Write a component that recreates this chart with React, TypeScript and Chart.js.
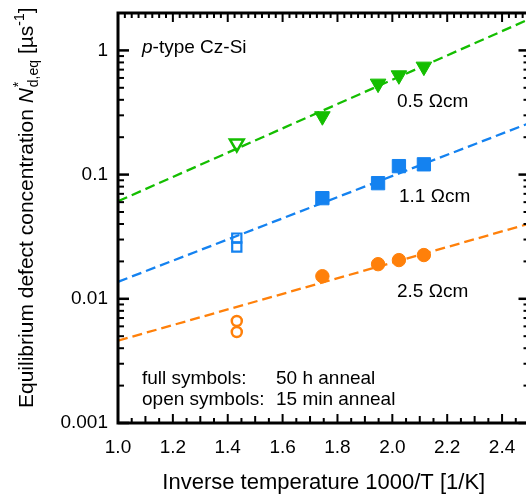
import React, { useEffect, useRef } from "react";
import { Chart, registerables } from "chart.js";

Chart.register(...registerables);

const FONT = '"Liberation Sans", Arial, Helvetica, sans-serif';

// ---- data ----
const xTicks = [1.0, 1.2, 1.4, 1.6, 1.8, 2.0, 2.2, 2.4];
const yTicks = [0.001, 0.01, 0.1, 1];
const yTickLabels = ["0.001", "0.01", "0.1", "1"];

const fullX = [1.745, 1.948, 2.024, 2.115];
const openX1 = [1.433];
const openX2 = [1.433, 1.433];

const green50h = [0.295, 0.54, 0.63, 0.74];
const green15min = [0.178];
const blue50h = [0.0646, 0.0853, 0.117, 0.121];
const blue15min = [0.0308, 0.0261];
const orange50h = [0.0152, 0.019, 0.0205, 0.0225];
const orange15min = [0.00663, 0.0054];

const fitX = [1.0, 2.5];
const greenFit = [0.061, 1.79];
const blueFit = [0.0137, 0.26];
const orangeFit = [0.0046, 0.0403];

const GREEN = "rgb(20,190,0)";
const BLUE = "rgb(20,130,240)";
const ORANGE = "rgb(255,128,10)";

const pts = (xs: number[], ys: number[]) => ys.map((y, i) => ({ x: xs[i], y }));

const framePlugin = {
  id: "frame",
  afterDraw(chart: any) {
    const { ctx, chartArea, scales } = chart;
    const { left, right, top, bottom } = chartArea;
    const x = scales.x;
    const y = scales.y;
    ctx.save();
    ctx.strokeStyle = "#000";
    ctx.lineCap = "butt";
    const seg = (x1: number, y1: number, x2: number, y2: number, w: number) => {
      ctx.lineWidth = w;
      ctx.beginPath();
      ctx.moveTo(x1, y1);
      ctx.lineTo(x2, y2);
      ctx.stroke();
    };
    // y ticks (log)
    for (let e = -3; e <= 0; e++) {
      for (let m = 1; m <= 9; m++) {
        const v = m * Math.pow(10, e);
        if (v < y.min - 1e-12 || v > y.max) continue;
        const py = y.getPixelForValue(v);
        const major = m === 1;
        const len = major ? 11 : 6;
        const w = major ? 2.5 : 2;
        seg(left, py, left + len, py, w);
        seg(right, py, right - len, py, w);
      }
    }
    // x ticks bottom: every 0.05, medium at 0.1, major at 0.2
    for (let i = 0; i <= 30; i++) {
      const v = 1.0 + i * 0.05;
      const px = x.getPixelForValue(v);
      const len = i % 4 === 0 ? 9 : i % 2 === 0 ? 7 : 5;
      seg(px, bottom, px, bottom - len, 2);
    }
    // x ticks top: every 0.025, major at 0.2
    for (let i = 0; i <= 60; i++) {
      const v = 1.0 + i * 0.025;
      const px = x.getPixelForValue(v);
      const len = i % 8 === 0 ? 9 : 5;
      seg(px, top, px, top + len, 2);
    }
    // frame
    ctx.lineWidth = 3;
    ctx.strokeRect(left, top, right - left, bottom - top);

    // annotations
    ctx.fillStyle = "#000";
    ctx.textBaseline = "alphabetic";
    ctx.textAlign = "left";
    const f19 = `19px ${FONT}`;
    ctx.font = `italic 19px ${FONT}`;
    ctx.fillText("p", left + 24, top + 40);
    const pw = ctx.measureText("p").width;
    ctx.font = f19;
    ctx.fillText("-type Cz-Si", left + 24 + pw, top + 40);
    ctx.fillText("0.5 \u03A9cm", left + 279, top + 94);
    ctx.fillText("1.1 \u03A9cm", left + 281, top + 189);
    ctx.fillText("2.5 \u03A9cm", left + 279, top + 284);
    ctx.fillText("full symbols:", left + 24, top + 371);
    ctx.fillText("50 h anneal", left + 158, top + 371);
    ctx.fillText("open symbols:", left + 24, top + 392);
    ctx.fillText("15 min anneal", left + 158, top + 392);

    // x title
    ctx.font = `22px ${FONT}`;
    ctx.textAlign = "center";
    ctx.fillText("Inverse temperature 1000/T [1/K]", (left + right) / 2, bottom + 66);

    // y title (rich text, rotated)
    ctx.save();
    ctx.translate(32.5, 408);
    ctx.rotate(-Math.PI / 2);
    ctx.textAlign = "left";
    let cx = 0;
    const big = `21px ${FONT}`;
    const small = `14px ${FONT}`;
    const put = (t: string, font: string, dy: number) => {
      ctx.font = font;
      ctx.fillText(t, cx, dy);
      return ctx.measureText(t).width;
    };
    cx += put("Equilibrium defect concentration ", big, 0);
    cx += put("N", `italic 21px ${FONT}`, 0);
    cx += 1;
    const wStar = put("*", small, -10);
    const wSub = put("d,eq", small, 5);
    cx += Math.max(wStar, wSub);
    cx += put(" [\u00B5s", big, 0);
    cx += put("-1", small, -9);
    cx += put("]", big, 0);
    ctx.restore();

    ctx.restore();
  },
};

export default function App() {
  const ref = useRef<HTMLCanvasElement | null>(null);
  useEffect(() => {
    if (!ref.current) return;
    const fitStyle = (color: string) => ({
      type: "line" as const,
      borderColor: color,
      borderWidth: 2.3,
      borderDash: [10, 5],
      pointRadius: 0,
      fill: false,
      showLine: true,
    });
    const chart = new Chart(ref.current, {
      type: "scatter",
      data: {
        datasets: [
          {
            label: "0.5 Ωcm 50 h",
            data: pts(fullX, green50h),
            pointStyle: "triangle",
            rotation: 180,
            radius: 9,
            backgroundColor: GREEN,
            borderColor: GREEN,
            borderWidth: 1,
          },
          {
            label: "0.5 Ωcm 15 min",
            data: pts(openX1, green15min),
            pointStyle: "triangle",
            rotation: 180,
            radius: 8,
            backgroundColor: "rgba(255,255,255,0)",
            borderColor: GREEN,
            borderWidth: 2.5,
          },
          {
            label: "1.1 Ωcm 50 h",
            data: pts(fullX, blue50h),
            pointStyle: "rect",
            radius: 9.4,
            backgroundColor: BLUE,
            borderColor: BLUE,
            borderWidth: 1,
          },
          {
            label: "1.1 Ωcm 15 min",
            data: pts(openX2, blue15min),
            pointStyle: "rect",
            radius: 6.5,
            backgroundColor: "rgba(255,255,255,0)",
            borderColor: BLUE,
            borderWidth: 2.2,
          },
          {
            label: "2.5 Ωcm 50 h",
            data: pts(fullX, orange50h),
            pointStyle: "circle",
            radius: 6.7,
            backgroundColor: ORANGE,
            borderColor: ORANGE,
            borderWidth: 1,
          },
          {
            label: "2.5 Ωcm 15 min",
            data: pts(openX2, orange15min),
            pointStyle: "circle",
            radius: 5,
            backgroundColor: "rgba(255,255,255,0)",
            borderColor: ORANGE,
            borderWidth: 2.5,
          },
          { ...fitStyle(GREEN), label: "fit 0.5", data: pts(fitX, greenFit) } as any,
          { ...fitStyle(BLUE), label: "fit 1.1", data: pts(fitX, blueFit) } as any,
          { ...fitStyle(ORANGE), label: "fit 2.5", data: pts(fitX, orangeFit) } as any,
        ],
      },
      options: {
        animation: false,
        responsive: false,
        devicePixelRatio: 1,
        layout: { padding: { top: 13, right: 9, left: 0, bottom: 0 } },
        plugins: { legend: { display: false }, tooltip: { enabled: false } },
        scales: {
          x: {
            type: "linear",
            min: 1.0,
            max: 2.5,
            grid: { display: false, drawTicks: false },
            border: { display: false },
            afterBuildTicks: (s: any) => {
              s.ticks = xTicks.map((v) => ({ value: v }));
            },
            afterFit: (s: any) => {
              s.height = 77;
              s.paddingLeft = 0;
              s.paddingRight = 0;
            },
            ticks: {
              color: "#000",
              padding: 13,
              font: { family: FONT, size: 19 },
              maxRotation: 0,
              autoSkip: false,
              callback: (v: any) => Number(v).toFixed(1),
            },
          },
          y: {
            type: "logarithmic",
            min: 0.001,
            max: 2,
            grid: { display: false, drawTicks: false },
            border: { display: false },
            afterBuildTicks: (s: any) => {
              s.ticks = yTicks.map((v) => ({ value: v }));
            },
            afterFit: (s: any) => {
              s.width = 118;
              s.paddingTop = 0;
              s.paddingBottom = 0;
            },
            ticks: {
              color: "#000",
              padding: 10,
              font: { family: FONT, size: 19 },
              autoSkip: false,
              callback: (v: any) => {
                const i = yTicks.findIndex((t) => Math.abs(t - Number(v)) < 1e-12);
                return i >= 0 ? yTickLabels[i] : "";
              },
            },
          },
        },
      },
      plugins: [framePlugin],
    });
    return () => chart.destroy();
  }, []);
  return (
    <div
      style={{
        position: "absolute",
        left: 0,
        top: 0,
        width: 526,
        height: 500,
        overflow: "hidden",
        background: "#fff",
      }}
    >
      <canvas ref={ref} width={540} height={500} style={{ display: "block" }} />
    </div>
  );
}
